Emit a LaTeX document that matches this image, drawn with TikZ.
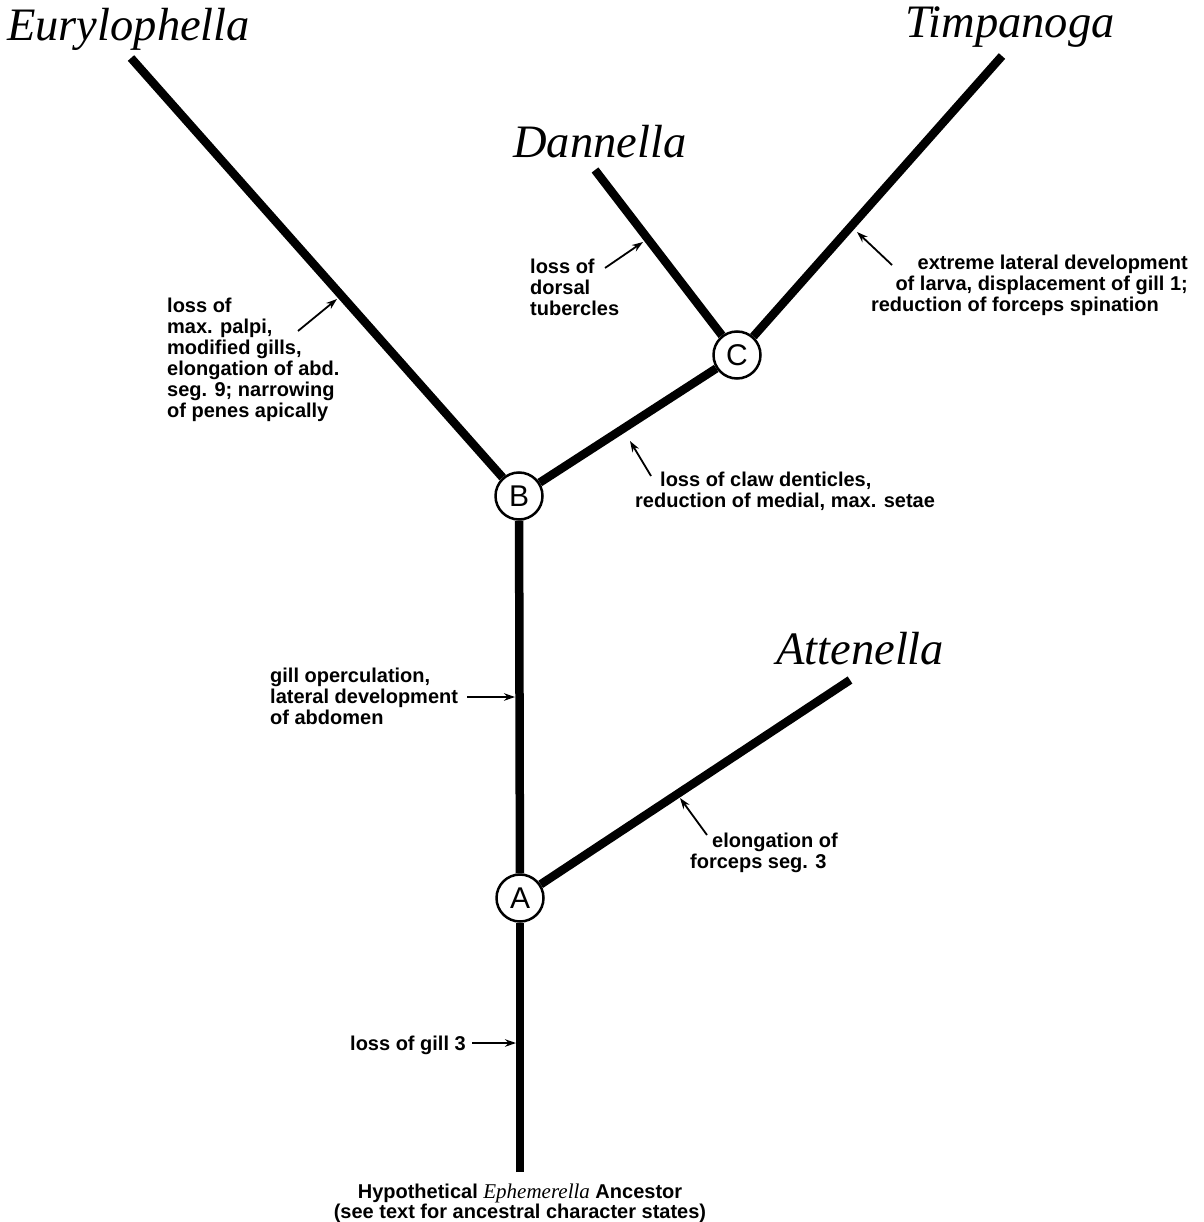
\documentclass[tikz,border=0pt]{standalone}
\usepackage{fontspec}
\setmainfont{Liberation Serif}
\newfontfamily\labfont{Liberation Sans}
\usetikzlibrary{arrows.meta}
\begin{document}
\begin{tikzpicture}[x=1pt,y=-1pt,
  branch/.style={line width=8.5pt},
  nd/.style={circle,draw,line width=2.5pt,minimum size=47pt,inner sep=0pt,fill=white,font=\fontsize{30}{30}\selectfont\labfont},
  taxon/.style={font=\fontsize{46.5}{50}\selectfont\itshape,inner sep=0pt,anchor=base west},
  note/.style={font=\fontsize{20}{21}\selectfont\labfont\bfseries,inner sep=0pt,align=left},
  ptr/.style={line width=1.8pt,-{Stealth[length=11pt,width=7.5pt]}}]
\useasboundingbox (0,0) rectangle (1203,1222);
% taxa
\node[taxon] (tEury) at (7,41) {Eurylophella};
\node[taxon] (tTimp) at (905,38) {Timpanoga};
\node[taxon] (tDann) at (513,158) {Dannella};
\node[taxon] (tAtte) at (776,664) {Attenella};
% internal nodes
\node[nd] (A) at (520,898) {A};
\node[nd] (B) at (519,496) {B};
\node[nd] (C) at (737,355) {C};
\coordinate (root) at (520,1172);
\coordinate (eury) at (131,58);
\coordinate (timp) at (1002,56);
\coordinate (dann) at (595,170);
\coordinate (atte) at (850,680);
% branches
\draw[branch] (root) -- (A);
\draw[branch] (A) -- (B);
\draw[branch] (A) -- (atte);
\draw[branch] (B) -- (eury);
\draw[branch] (B) -- (C);
\draw[branch] (C) -- (dann);
\draw[branch] (C) -- (timp);
% labels
\node[note,anchor=north west] (l1) at (167,298) {loss of\\max. palpi,\\modified gills,\\elongation of abd.\\seg. 9; narrowing\\of penes apically};
\node[note,anchor=north west] (l2) at (530,259) {loss of\\dorsal\\tubercles};
\node[note,anchor=north east,align=right] (l3) at (1188,255) {extreme lateral development\\of larva, displacement of gill 1;\\reduction of forceps spination\hspace*{29pt}};
\node[note,anchor=north west] (l4) at (635,472) {\hspace*{25pt}loss of claw denticles,\\reduction of medial, max. setae};
\node[note,anchor=north west] (l5) at (270,668) {gill operculation,\\lateral development\\of abdomen};
\node[note,anchor=north west] (l6) at (690,833) {\hspace*{22pt}elongation of\\forceps seg. 3};
\node[note,anchor=base west] (l7) at (350,1050) {loss of gill 3};
\node[note,anchor=north,align=center,font=\fontsize{20}{20}\selectfont\labfont\bfseries] (l8) at (520,1184) {Hypothetical {\rmfamily\mdseries\itshape\fontsize{21}{20}\selectfont Ephemerella} Ancestor\\(see text for ancestral character states)};
% pointer arrows
\coordinate (p1s) at (298,331); \coordinate (p1e) at (337,299);
\coordinate (p2s) at (605,268); \coordinate (p2e) at (643,242);
\coordinate (p3s) at (892,265); \coordinate (p3e) at (857,232);
\coordinate (p4s) at (651,476); \coordinate (p4e) at (630,441);
\coordinate (p5s) at (467,697); \coordinate (p5e) at (515,697);
\coordinate (p6s) at (707,835); \coordinate (p6e) at (680,798);
\coordinate (p7s) at (472,1043); \coordinate (p7e) at (516,1043);
\draw[ptr] (p1s) -- (p1e);
\draw[ptr] (p2s) -- (p2e);
\draw[ptr] (p3s) -- (p3e);
\draw[ptr] (p4s) -- (p4e);
\draw[ptr] (p5s) -- (p5e);
\draw[ptr] (p6s) -- (p6e);
\draw[ptr] (p7s) -- (p7e);
\end{tikzpicture}
\end{document}
